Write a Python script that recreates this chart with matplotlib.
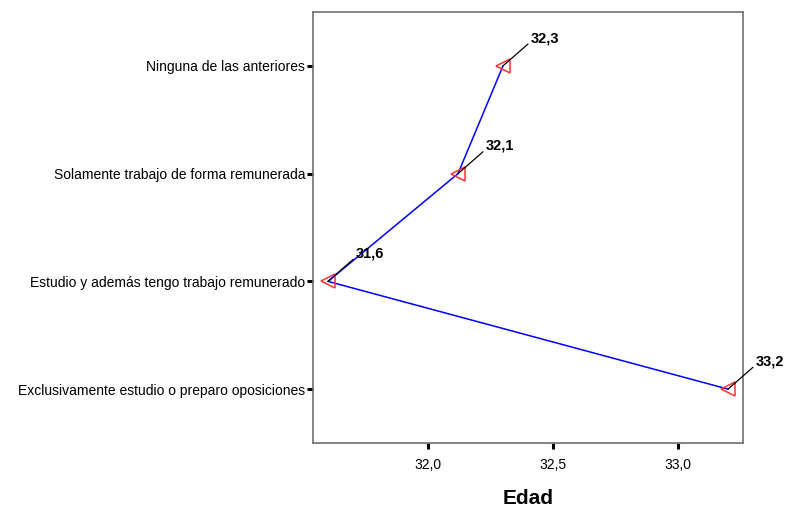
import matplotlib
matplotlib.use("Agg")
import matplotlib.pyplot as plt

categories = ["Exclusivamente estudio o preparo oposiciones",
              "Estudio y además tengo trabajo remunerado",
              "Solamente trabajo de forma remunerada",
              "Ninguna de las anteriores"]
edad = [33.2, 31.6, 32.12, 32.3]
value_labels = ["33,2", "31,6", "32,1", "32,3"]
xticks = [32.0, 32.5, 33.0]
xtick_labels = ["32,0", "32,5", "33,0"]

plt.rcParams['font.family'] = ['Liberation Sans', 'DejaVu Sans']

fig = plt.figure(figsize=(7.9, 5.13), dpi=100)
ax = fig.add_axes([313/790, 1-443/513, (743-313)/790, (443-12)/513])

ypos = list(range(len(categories)))
ax.plot(edad, ypos, color='#0000ff', lw=1.1, zorder=2)
ax.plot(edad, ypos, linestyle='none', marker='<', markersize=10.5,
        markerfacecolor='none', markeredgecolor='#ff3333', markeredgewidth=1.1, zorder=3)

for x, y, lab in zip(edad, ypos, value_labels):
    ax.annotate(lab, xy=(x, y), xytext=(20, 20), textcoords='offset points',
                ha='left', va='center', fontsize=10.5, fontweight='bold',
                arrowprops=dict(arrowstyle='-', color='black', lw=0.9,
                                shrinkA=0, shrinkB=0, relpos=(0.0, 0.25)),
                zorder=4)

ax.set_xlim(31.54, 33.26)
ax.set_ylim(-0.5, 3.5)
ax.set_yticks(ypos)
ax.set_yticklabels(categories, fontsize=10)
ax.set_xticks(xticks)
ax.set_xticklabels(xtick_labels, fontsize=10)
ax.tick_params(axis='both', direction='out', length=4, width=2.2, color='black', pad=1.5)
ax.tick_params(axis='x', pad=7)
for s in ax.spines.values():
    s.set_color('#707070')
    s.set_linewidth(1.2)

ax.set_xlabel("Edad", fontsize=15, fontweight='bold', labelpad=12)

fig.savefig("out.png", dpi=100)
